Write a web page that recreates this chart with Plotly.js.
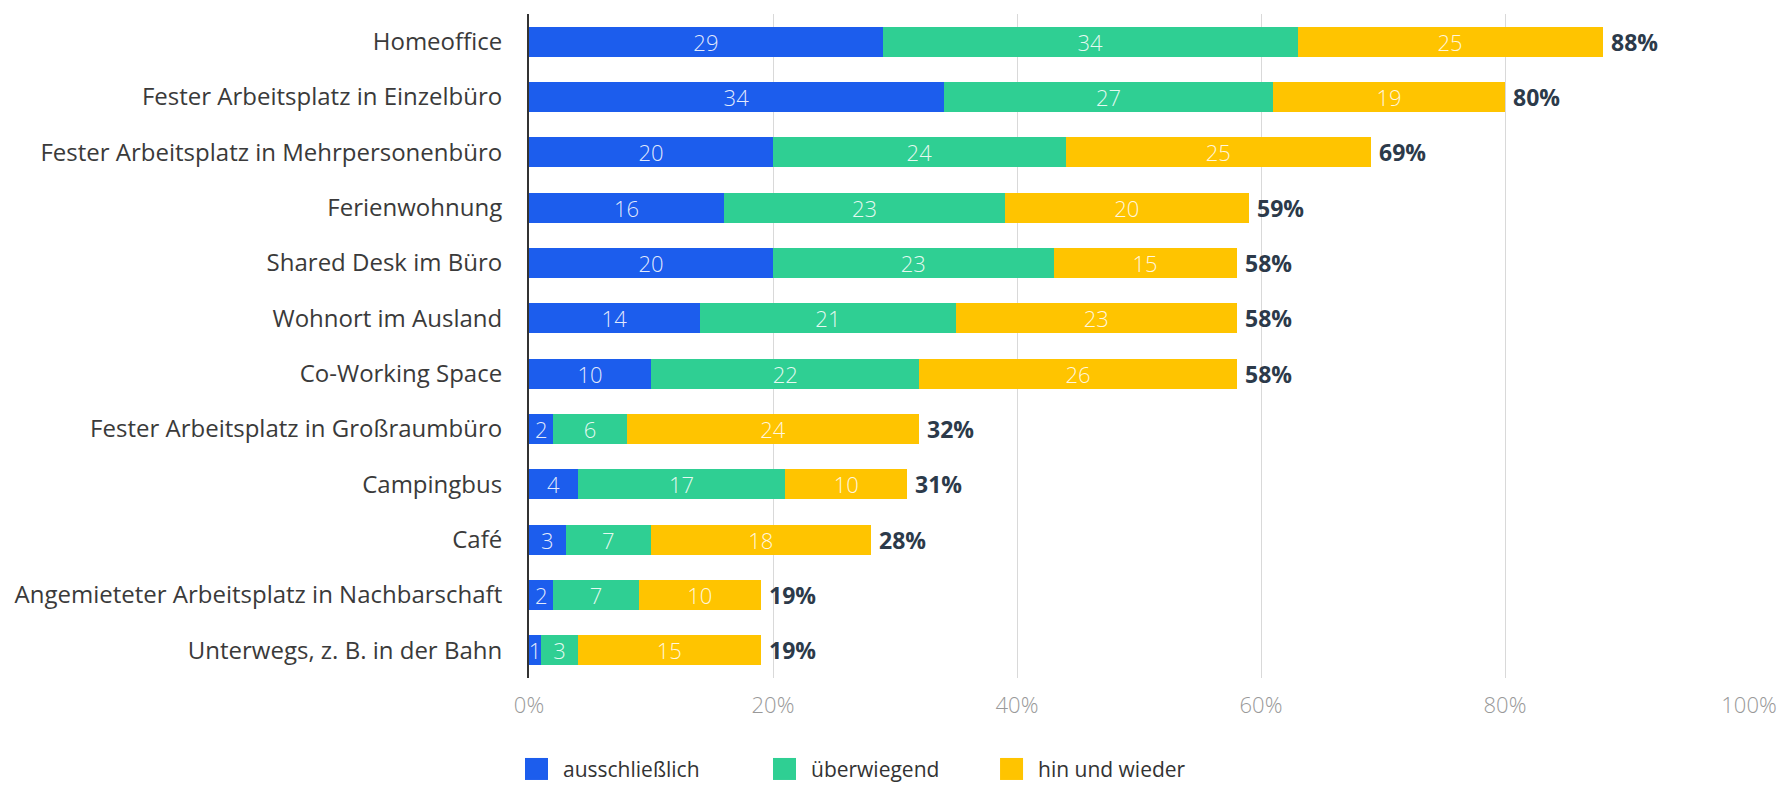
<!DOCTYPE html>
<html>
<head>
<meta charset="utf-8">
<script src="https://cdn.plot.ly/plotly-3.0.1.min.js"></script>
<style>
  html, body { margin: 0; padding: 0; background: #ffffff; }
  #chart { width: 1780px; height: 787px; }
</style>
</head>
<body>
<div id="chart"></div>
<script>
const categories = [
  "Homeoffice",
  "Fester Arbeitsplatz in Einzelbüro",
  "Fester Arbeitsplatz in Mehrpersonenbüro",
  "Ferienwohnung",
  "Shared Desk im Büro",
  "Wohnort im Ausland",
  "Co-Working Space",
  "Fester Arbeitsplatz in Großraumbüro",
  "Campingbus",
  "Café",
  "Angemieteter Arbeitsplatz in Nachbarschaft",
  "Unterwegs, z. B. in der Bahn"
];
const seriesNames = ["ausschließlich", "überwiegend", "hin und wieder"];
const ausschliesslich = [29, 34, 20, 16, 20, 14, 10, 2, 4, 3, 2, 1];
const ueberwiegend   = [34, 27, 24, 23, 23, 21, 22, 6, 17, 7, 7, 3];
const hinUndWieder   = [25, 19, 25, 20, 15, 23, 26, 24, 10, 18, 10, 15];
const totals         = [88, 80, 69, 59, 58, 58, 58, 32, 31, 28, 19, 19];
const tickValues = [0, 20, 40, 60, 80, 100];
const tickLabels = ["0%", "20%", "40%", "60%", "80%", "100%"];

const colors = ["#1c5ded", "#2fcf93", "#ffc400"];
const FONT = "Open Sans, Noto Sans, sans-serif";

const seriesValues = [ausschliesslich, ueberwiegend, hinUndWieder];
const traces = seriesValues.map((vals, i) => ({
  type: "bar",
  orientation: "h",
  name: seriesNames[i],
  y: categories,
  x: vals,
  text: vals.map(String),
  textposition: "inside",
  insidetextanchor: "middle",
  textangle: 0,
  constraintext: "none",
  cliponaxis: false,
  textfont: { family: FONT, size: 22, color: "rgba(255,255,255,0.88)", weight: 300 },
  marker: { color: colors[i], line: { width: 0 } },
  hoverinfo: "skip",
  showlegend: false
}));

const annotations = categories.map((c, i) => ({
  x: totals[i], y: c, xref: "x", yref: "y",
  text: totals[i] + "%",
  showarrow: false, xanchor: "left", yanchor: "middle", xshift: 6,
  font: { family: FONT, size: 23, color: "#2c3a4a", weight: 700 }
}));

// manual legend
const legendX = [-0.0033, 0.2000, 0.3861];
const legendY = -0.1370;
const shapes = [];
seriesNames.forEach((n, i) => {
  shapes.push({
    type: "rect", xref: "paper", yref: "paper",
    xsizemode: "pixel", ysizemode: "pixel",
    xanchor: legendX[i], yanchor: legendY,
    x0: 0, x1: 23, y0: -11, y1: 11,
    fillcolor: colors[i], line: { width: 0 }
  });
  annotations.push({
    x: legendX[i], y: legendY, xref: "paper", yref: "paper",
    xanchor: "left", yanchor: "middle", xshift: 36,
    text: n, showarrow: false,
    font: { family: FONT, size: 21, color: "#333333" }
  });
});

const layout = {
  width: 1780, height: 787,
  margin: { l: 529, r: 31, t: 14, b: 109, pad: 0 },
  paper_bgcolor: "#ffffff", plot_bgcolor: "#ffffff",
  barmode: "stack",
  bargap: 0.46,
  showlegend: false,
  xaxis: {
    range: [0, 100],
    tickvals: tickValues, ticktext: tickLabels,
    showgrid: true, gridcolor: "#d9d9d9", gridwidth: 1,
    zeroline: false, showline: false, ticks: "",
    ticklabelstandoff: 12,
    tickfont: { family: FONT, size: 22, color: "#999999", weight: 300 },
    fixedrange: true
  },
  yaxis: {
    autorange: "reversed",
    showgrid: false, zeroline: false,
    showline: true, linecolor: "#333333", linewidth: 2,
    ticks: "", ticklabelstandoff: 20,
    tickfont: { family: FONT, size: 24, color: "#3a3a3a" },
    fixedrange: true
  },
  shapes: shapes,
  annotations: annotations
};

Plotly.newPlot("chart", traces, layout, { displayModeBar: false, staticPlot: true });
</script>
</body>
</html>
